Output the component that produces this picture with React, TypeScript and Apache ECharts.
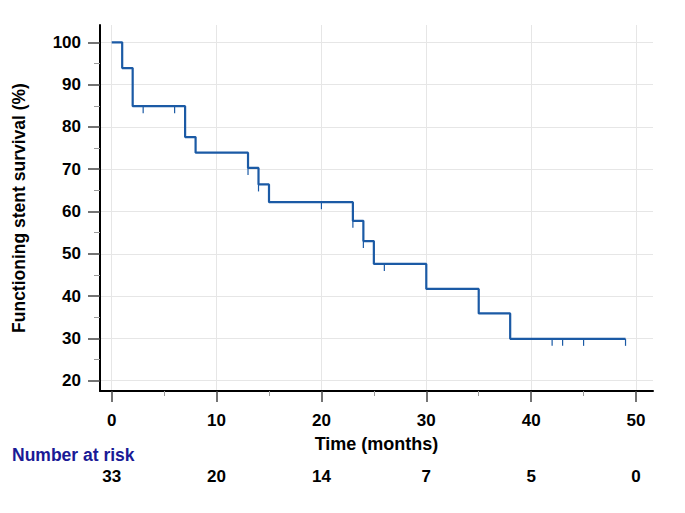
import React, { useEffect, useRef } from "react";
import * as echarts from "echarts";

const stepTimes = [0, 1, 2, 7, 8, 13, 14, 15, 23, 24, 25, 30, 35, 38, 49];
const stepSurvival = [100, 93.9, 84.9, 77.6, 73.9, 70.3, 66.4, 62.2, 57.8, 53.0, 47.6, 41.7, 35.9, 29.9, 29.9];
const censorTimes = [3, 6, 13, 14, 20, 23, 24, 26, 42, 43, 45, 49];
const censorSurvival = [84.9, 84.9, 70.3, 66.4, 62.2, 57.8, 53.0, 47.6, 29.9, 29.9, 29.9, 29.9];
const xMajorTicks = [0, 10, 20, 30, 40, 50];
const xMinorTicks = [5, 15, 25, 35, 45];
const yMajorTicks = [20, 30, 40, 50, 60, 70, 80, 90, 100];
const yMinorTicks = [25, 35, 45, 55, 65, 75, 85, 95];
const riskTimes = [0, 10, 20, 30, 40, 50];
const riskNumbers = [33, 20, 14, 7, 5, 0];

const CURVE = "#1b5aa5";
const FONT = "Liberation Sans";
const X_MIN = -1.116;
const X_MAX = 51.62;
const Y_MIN = 17.57;
const Y_MAX = 104.09;

export default function App() {
  const ref = useRef<HTMLDivElement>(null);
  useEffect(() => {
    document.body.style.margin = "0";
    const chart = echarts.init(ref.current!, null, { renderer: "svg" });
    const lineData = stepTimes.map((t, i) => [t, stepSurvival[i]]);
    const censorData = censorTimes.map((t, i) => [t, censorSurvival[i]]);
    chart.setOption({
      animation: false,
      backgroundColor: "#ffffff",
      grid: { left: 100, right: 32, top: 25, bottom: 122, containLabel: false },
      xAxis: [
        {
          type: "value",
          position: "bottom",
          min: X_MIN,
          max: X_MAX,
          name: "Time (months)",
          nameLocation: "middle",
          nameGap: 44,
          nameTextStyle: { fontFamily: FONT, fontWeight: "bold", fontSize: 18, color: "#000" },
          axisLine: { show: true, onZero: false, lineStyle: { color: "#000", width: 2 } },
          axisTick: { show: true, customValues: xMajorTicks, length: 11, lineStyle: { color: "#444", width: 1.5 } },
          axisLabel: {
            customValues: xMajorTicks,
            margin: 21,
            fontFamily: FONT,
            fontWeight: "bold",
            fontSize: 17,
            color: "#000",
          },
          splitLine: { show: true, lineStyle: { color: "#e6e6e6", width: 1 } },
        },
        {
          type: "value",
          position: "bottom",
          min: X_MIN,
          max: X_MAX,
          axisLine: { show: false, onZero: false },
          axisTick: { show: true, customValues: xMinorTicks, length: 5, lineStyle: { color: "#999", width: 1 } },
          axisLabel: { show: false },
          splitLine: { show: false },
        },
        {
          type: "value",
          position: "bottom",
          min: X_MIN,
          max: X_MAX,
          axisLine: { show: false, onZero: false },
          axisTick: { show: false, customValues: riskTimes },
          axisLabel: {
            customValues: riskTimes,
            margin: 77,
            fontFamily: FONT,
            fontWeight: "bold",
            fontSize: 17,
            color: "#000",
            formatter: (v: number) => {
              const idx = riskTimes.indexOf(Math.round(v));
              return idx >= 0 ? String(riskNumbers[idx]) : "";
            },
          },
          splitLine: { show: false },
        },
      ],
      yAxis: [
        {
          type: "value",
          position: "left",
          min: Y_MIN,
          max: Y_MAX,
          name: "Functioning stent survival (%)",
          nameLocation: "middle",
          nameGap: 72,
          nameTextStyle: { fontFamily: FONT, fontWeight: "bold", fontSize: 17.5, color: "#000" },
          axisLine: { show: true, onZero: false, lineStyle: { color: "#000", width: 2 } },
          axisTick: { show: true, customValues: yMajorTicks, length: 12, lineStyle: { color: "#444", width: 1.5 } },
          axisLabel: {
            customValues: yMajorTicks,
            margin: 19,
            fontFamily: FONT,
            fontWeight: "bold",
            fontSize: 17,
            color: "#000",
          },
          splitLine: { show: true, lineStyle: { color: "#e6e6e6", width: 1 } },
        },
        {
          type: "value",
          position: "left",
          min: Y_MIN,
          max: Y_MAX,
          axisLine: { show: false, onZero: false },
          axisTick: { show: true, customValues: yMinorTicks, length: 6, lineStyle: { color: "#999", width: 1 } },
          axisLabel: { show: false },
          splitLine: { show: false },
        },
      ],
      graphic: [
        {
          type: "text",
          left: 12,
          top: 446,
          style: {
            text: "Number at risk",
            fontFamily: FONT,
            fontWeight: "bold",
            fontSize: 17.5,
            fill: "#1a1a96",
          },
        },
      ],
      series: [
        {
          type: "line",
          xAxisIndex: 0,
          yAxisIndex: 0,
          data: lineData,
          step: "end",
          symbol: "none",
          lineStyle: { color: CURVE, width: 2.2 },
          itemStyle: { color: CURVE },
          z: 3,
        },
        {
          type: "custom",
          xAxisIndex: 0,
          yAxisIndex: 0,
          data: censorData,
          encode: { x: 0, y: 1 },
          renderItem: (params: any, api: any) => {
            const p = api.coord([api.value(0), api.value(1)]);
            return {
              type: "line",
              shape: { x1: p[0], y1: p[1], x2: p[0], y2: p[1] + 7 },
              style: { stroke: CURVE, lineWidth: 1.2 },
            };
          },
          z: 3,
        },
      ],
    });
    return () => chart.dispose();
  }, []);
  return <div ref={ref} style={{ width: 685, height: 513 }} />;
}
